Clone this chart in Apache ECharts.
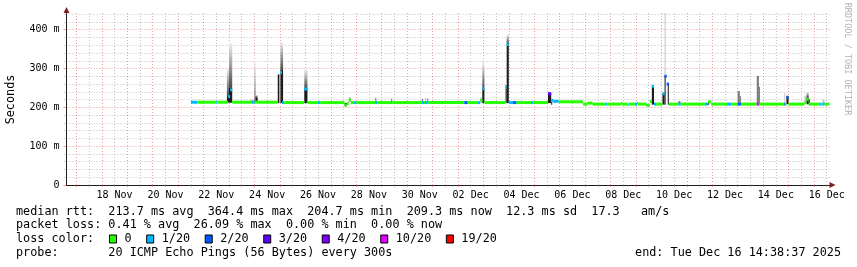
<!DOCTYPE html>
<html><head><meta charset="utf-8">
<script src="https://cdn.jsdelivr.net/npm/echarts@6/dist/echarts.min.js"></script>
<style>html,body{margin:0;padding:0;background:#fff}#c{width:857px;height:267px}</style>
</head><body><div id="c"></div><script>
// ---------------- data ----------------
const rangeStart = '11-16 14:38';
const rangeEnd = '12-16 14:38';
const xTickLabels = ['18 Nov','20 Nov','22 Nov','24 Nov','26 Nov','28 Nov','30 Nov','02 Dec','04 Dec','06 Dec','08 Dec','10 Dec','12 Dec','14 Dec','16 Dec'];
const yTickValues = [0, 100, 200, 300, 400];           // ms
const yTickLabels = ['0', '100 m', '200 m', '300 m', '400 m'];
const yMax = 443;                                      // ms, top of plot
const lossLabels = ['0', '1/20', '2/20', '3/20', '4/20', '10/20', '19/20'];
const lossColors = ['#26ff00', '#00b8ff', '#0059ff', '#5e00ff', '#7e00ff', '#dd00ff', '#ff0000'];

// median rtt (ms) step series: [start time, median, loss class]; holds until next entry
const medianSteps = [
 ['11-21 12:00', 213.2, 1], ['11-21 18:00', 213.2, 0], ['11-22 12:00', 213.2, 1], ['11-22 13:00', 213.2, 0],
 ['11-22 23:00', 228, 1], ['11-23 01:00', 245, 1], ['11-23 03:00', 213.2, 0], ['11-23 21:00', 213.2, 1],
 ['11-24 00:00', 213.2, 0], ['11-24 22:00', null, 0], ['11-25 00:00', 290, 1], ['11-25 02:00', 212.3, 1],
 ['11-25 04:00', 212.3, 0], ['11-25 23:00', 247, 1], ['11-26 02:00', 212.3, 0], ['11-26 12:00', 212.3, 1],
 ['11-26 14:00', 212.3, 0], ['11-27 13:00', 205, 0], ['11-27 15:00', 210, 0], ['11-27 17:00', 219, 0],
 ['11-27 19:00', 212.3, 0], ['11-27 22:00', 212.3, 1], ['11-28 00:00', 212.3, 0], ['11-28 18:00', 212.3, 1],
 ['11-28 20:00', 212.3, 0], ['11-29 09:00', 212.3, 1], ['11-29 10:00', 212.3, 0], ['11-30 14:00', 212.3, 1],
 ['11-30 16:00', 212.3, 0], ['11-30 17:00', 212.3, 1], ['11-30 20:00', 212.3, 0], ['12-02 06:00', 212.3, 2],
 ['12-02 09:00', 212.3, 0], ['12-02 19:00', 212.3, 1], ['12-02 21:00', 218, 0], ['12-02 23:00', 248, 1],
 ['12-03 01:00', 212.3, 0], ['12-03 21:00', 252, 1], ['12-03 22:00', 362, 1], ['12-04 00:00', 212.3, 1],
 ['12-04 04:00', 212.3, 2], ['12-04 07:00', 212.3, 0], ['12-04 21:00', 212.3, 1], ['12-04 23:00', 212.3, 0],
 ['12-05 13:00', 235, 3], ['12-05 16:00', 218, 1], ['12-05 18:00', 215.5, 1], ['12-05 23:00', 214.3, 0],
 ['12-06 22:00', 208.3, 0], ['12-07 02:00', 211, 0], ['12-07 07:00', 208.3, 0], ['12-07 19:00', 208.3, 1],
 ['12-07 21:00', 208.3, 0], ['12-08 10:00', 211, 0], ['12-08 11:00', 208.3, 0], ['12-08 16:00', 206.5, 1],
 ['12-08 17:00', 208.3, 0], ['12-08 23:00', 208.3, 1], ['12-09 01:00', 211, 0], ['12-09 02:00', 208.3, 0],
 ['12-09 10:00', 205.5, 0], ['12-09 13:00', 215, 0], ['12-09 15:00', 254, 1], ['12-09 17:00', 208.3, 1],
 ['12-09 19:00', 208.3, 0], ['12-10 01:00', 235, 1], ['12-10 03:00', 280, 2], ['12-10 05:00', 260, 2],
 ['12-10 07:00', 208.3, 0], ['12-10 16:00', 208.3, 1], ['12-10 18:00', 208.3, 0], ['12-11 17:00', 208.3, 1],
 ['12-11 20:00', 214, 0], ['12-11 23:00', 208.3, 0], ['12-12 14:00', 208.3, 1], ['12-12 18:00', 208.3, 0],
 ['12-13 00:00', 208.3, 2], ['12-13 03:00', 208.3, 0], ['12-13 18:00', 208.3, 5], ['12-13 20:00', 208.3, 0],
 ['12-14 20:00', 208.3, 2], ['12-14 21:00', 208.3, 0], ['12-14 22:00', 226, 2], ['12-15 00:00', 208.3, 0],
 ['12-15 15:00', 213, 0], ['12-15 17:00', 221, 0], ['12-15 19:00', 208.3, 0], ['12-16 05:00', 208.3, 1],
 ['12-16 07:00', 208.3, 0], ['12-16 08:00', 208.3, 1], ['12-16 10:00', 208.3, 0], ['12-16 14:38', null, 0]
];

// smoke (ping spread): [start, end, low ms, dense core top ms, top ms, kind] kind 0 dense, 1 sparse, 2 faint
const smokeRuns = [
 ['11-22 22:00','11-23 00:00', 212, 229, 300, 0], ['11-23 00:00','11-23 03:00', 212, 250, 366, 0],
 ['11-23 20:00','11-24 00:00', 212, 212, 220, 2], ['11-24 00:00','11-24 01:00', 212, 214, 320, 0],
 ['11-24 01:00','11-24 03:00', 212, 226, 232, 0],
 ['11-24 22:00','11-24 23:30', 211, 285, 285, 0], ['11-25 00:30','11-25 03:00', 211, 296, 369, 0],
 ['11-25 23:00','11-26 02:00', 211, 248, 298, 0],
 ['11-27 13:00','11-27 15:00', 204, 211, 211, 0], ['11-27 17:00','11-27 19:00', 212, 212, 226, 2],
 ['11-28 18:00','11-28 19:00', 212, 212, 225, 1], ['11-29 09:00','11-29 10:00', 212, 212, 222, 1],
 ['11-30 14:00','11-30 15:00', 212, 212, 222, 1], ['11-30 17:00','11-30 18:00', 212, 212, 225, 2],
 ['11-30 19:00','11-30 20:00', 212, 212, 223, 1],
 ['12-02 21:00','12-02 23:00', 211, 211, 226, 2], ['12-02 23:00','12-03 01:00', 211, 250, 317, 0],
 ['12-03 21:00','12-03 22:00', 211, 257, 257, 0], ['12-03 22:00','12-04 00:00', 211, 366, 388, 0],
 ['12-05 13:00','12-05 16:00', 211, 238, 238, 0], ['12-05 16:00','12-05 17:00', 207, 214, 214, 0],
 ['12-09 10:00','12-09 12:00', 203, 208, 208, 0], ['12-09 15:00','12-09 17:00', 207, 256, 258, 0],
 ['12-10 01:00','12-10 03:00', 207, 237, 237, 0], ['12-10 03:00','12-10 04:00', 283, 283, 470, 2],
 ['12-10 03:00','12-10 04:00', 207, 283, 283, 0], ['12-10 06:00','12-10 07:00', 207, 262, 262, 0],
 ['12-10 16:00','12-10 18:00', 209, 209, 216, 1], ['12-11 20:00','12-11 21:00', 207, 216, 216, 0],
 ['12-13 00:00','12-13 02:00', 208, 208, 242, 1], ['12-13 02:00','12-13 03:00', 208, 208, 229, 1],
 ['12-13 18:00','12-13 20:00', 208, 208, 281, 1], ['12-13 20:00','12-13 21:00', 208, 208, 253, 1],
 ['12-14 20:00','12-14 21:00', 208, 208, 237, 2], ['12-14 22:00','12-15 00:00', 208, 229, 229, 0],
 ['12-15 15:00','12-15 17:00', 208, 208, 230, 2], ['12-15 17:00','12-15 19:00', 208, 226, 240, 0],
 ['12-15 19:00','12-15 20:00', 208, 221, 221, 0], ['12-16 08:00','12-16 10:00', 208, 208, 220, 2]
];

const summaryLines = [
 'median rtt:  213.7 ms avg  364.4 ms max  204.7 ms min  209.3 ms now  12.3 ms sd  17.3   am/s',
 'packet loss: 0.41 % avg  26.09 % max  0.00 % min  0.00 % now',
 'loss color:',
 'probe:       20 ICMP Echo Pings (56 Bytes) every 300s'
];
const endText = 'end: Tue Dec 16 14:38:37 2025';
const yTitle = 'Seconds';
const watermark = 'RRDTOOL / TOBI OETIKER';

// ---------------- helpers ----------------
function day(s) {               // 'MM-DD HH:MM' -> day number counted from Nov 0
  const [md, hm] = s.split(' ');
  const [M, D] = md.split('-').map(Number);
  const [h, m] = hm.split(':').map(Number);
  return (M === 12 ? 30 : 0) + D + (h + m / 60) / 24;
}
function labelDay(lbl) {        // label centred on noon of its day
  const [d, mon] = lbl.split(' ');
  return (mon === 'Dec' ? 30 : 0) + Number(d) + 0.5;
}
const xMin = day(rangeStart), xMax = day(rangeEnd);
const labelPos = xTickLabels.map(labelDay);
const majorDays = [], minorDays = [];
for (let d = Math.ceil(xMin); d <= xMax; d++) majorDays.push(d);
for (let d = Math.floor(xMin) + 0.5; d <= xMax; d++) if (d >= xMin) minorDays.push(d);
const minorY = [];
for (let v = 20; v <= yMax; v += 20) if (v % 100 !== 0) minorY.push(v);

const FONT = 'DejaVu Sans Mono';
const GRID_C = 'rgba(143,143,143,0.55)';
const MGRID_C = 'rgba(222,79,79,0.55)';
const AXIS_C = '#1f1f1f';
const ARROW_C = '#801f1f';
const G = { left: 66.5, right: 27.5, top: 13, bottom: 82 };

// median segments grouped by loss class
const medianByLoss = lossLabels.map(() => []);
for (let i = 0; i < medianSteps.length - 1; i++) {
  const [t, v, l] = medianSteps[i];
  if (v === null) continue;
  medianByLoss[l].push([day(t), day(medianSteps[i + 1][0]), v]);
}
const smokeData = smokeRuns.map(r => [day(r[0]), day(r[1]), r[2], r[3], r[4], r[5]]);

const chart = echarts.init(document.getElementById('c'), null, { renderer: 'canvas' });

function clampY(y, cs) { return Math.max(cs.y, Math.min(cs.y + cs.height, y)); }

const smokeSeries = {
  type: 'custom', name: 'smoke', xAxisIndex: 0, yAxisIndex: 0, z: 3,
  encode: { x: [0, 1], y: [2, 4] },
  data: smokeData,
  renderItem(params, api) {
    const cs = params.coordSys;
    const t0 = api.value(0), t1 = api.value(1), lo = api.value(2), core = api.value(3), top = api.value(4), kind = api.value(5);
    const x0 = api.coord([t0, lo])[0];
    const x1 = api.coord([t1, lo])[0];
    const w = Math.max(x1 - x0, 1);
    const yLo = clampY(api.coord([t0, lo])[1], cs);
    const yCore = clampY(api.coord([t0, core])[1], cs);
    const yTop = clampY(api.coord([t0, top])[1], cs);
    const children = [];
    if (kind === 0) {
      if (yCore - yTop > 0.5) children.push({ type: 'rect', shape: { x: x0, y: yTop, width: w, height: yCore - yTop },
        style: { fill: new echarts.graphic.LinearGradient(0, 0, 0, 1, [{ offset: 0, color: '#f0f0f0' }, { offset: 1, color: '#4a4a4a' }]) } });
      if (yLo - yCore > 0.5) children.push({ type: 'rect', shape: { x: x0, y: yCore, width: w, height: yLo - yCore }, style: { fill: '#1c1c1c' } });
    } else {
      children.push({ type: 'rect', shape: { x: x0, y: yTop, width: w, height: yLo - yTop }, style: { fill: kind === 1 ? '#7a7a7a' : '#c8c8c8' } });
    }
    return { type: 'group', children };
  }
};

const medianSeries = lossLabels.map((name, li) => ({
  type: 'custom', name, xAxisIndex: 0, yAxisIndex: 0, z: 4,
  itemStyle: { color: lossColors[li] },
  encode: { x: [0, 1], y: 2 },
  data: medianByLoss[li],
  renderItem(params, api) {
    const a = api.coord([api.value(0), api.value(2)]);
    const b = api.coord([api.value(1), api.value(2)]);
    return { type: 'rect', shape: { x: a[0], y: a[1] - 1.5, width: Math.max(b[0] - a[0], 1), height: 3 }, style: { fill: lossColors[li] } };
  }
}));

// text & arrows positioned from the grid
const W = 857, H = 267;
const plotRight = W - G.right;
const plotBottom = H - G.bottom;
const gfx = [];
const lineY = [211.5, 225.2, 239, 252.7];
summaryLines.forEach((s, i) => gfx.push({ type: 'text', x: 16, y: lineY[i], silent: true,
  style: { text: s, fontFamily: FONT, fontSize: 11.8, fill: '#000', verticalAlign: 'middle', align: 'left' } }));
gfx.push({ type: 'text', x: 841, y: lineY[3], silent: true,
  style: { text: endText, fontFamily: FONT, fontSize: 11.8, fill: '#000', verticalAlign: 'middle', align: 'right' } });
gfx.push({ type: 'text', x: 10.5, y: 99.5, rotation: Math.PI / 2, silent: true,
  style: { text: yTitle, fontFamily: FONT, fontSize: 11.8, fill: '#000', verticalAlign: 'middle', align: 'center' } });
gfx.push({ type: 'text', x: 847.5, y: 59, rotation: -Math.PI / 2, silent: true,
  style: { text: watermark, fontFamily: FONT, fontSize: 8.5, fill: '#b4b4b4', verticalAlign: 'middle', align: 'center' } });
gfx.push({ type: 'polygon', silent: true, shape: { points: [[G.left - 3, G.top], [G.left + 3, G.top], [G.left, G.top - 6]] }, style: { fill: ARROW_C } });
gfx.push({ type: 'polygon', silent: true, shape: { points: [[plotRight, plotBottom - 3], [plotRight, plotBottom + 3], [plotRight + 6, plotBottom]] }, style: { fill: ARROW_C } });

const option = {
  animation: false,
  backgroundColor: '#ffffff',
  grid: G,
  xAxis: [
    { type: 'value', min: xMin, max: xMax, position: 'bottom',
      axisLine: { show: true, lineStyle: { color: AXIS_C, width: 1 } },
      axisTick: { show: false },
      axisLabel: { customValues: labelPos, margin: 5, fontFamily: FONT, fontSize: 10, color: '#000',
        formatter: v => { const i = labelPos.findIndex(p => Math.abs(p - v) < 1e-6); return i >= 0 ? xTickLabels[i] : ''; } },
      splitLine: { show: false } },
    { type: 'value', min: xMin, max: xMax, position: 'bottom',
      axisLine: { show: false }, axisLabel: { show: false },
      axisTick: { show: true, customValues: majorDays, length: 2, lineStyle: { color: MGRID_C } },
      splitLine: { show: true, lineStyle: { color: MGRID_C, width: 1, type: [1, 2] } } },
    { type: 'value', min: xMin, max: xMax, position: 'bottom',
      axisLine: { show: false }, axisLabel: { show: false },
      axisTick: { show: true, customValues: minorDays, length: 2, lineStyle: { color: GRID_C } },
      splitLine: { show: true, lineStyle: { color: GRID_C, width: 1, type: [1, 2] } } }
  ],
  yAxis: [
    { type: 'value', min: 0, max: yMax, position: 'left',
      axisLine: { show: true, lineStyle: { color: AXIS_C, width: 1 } },
      axisTick: { show: true, customValues: yTickValues, length: 3, lineStyle: { color: MGRID_C } },
      axisLabel: { customValues: yTickValues, margin: 7, fontFamily: FONT, fontSize: 10, color: '#000',
        formatter: v => { const i = yTickValues.indexOf(v); return i >= 0 ? yTickLabels[i] : ''; } },
      splitLine: { show: true, lineStyle: { color: MGRID_C, width: 1, type: [1, 2] } } },
    { type: 'value', min: 0, max: yMax, position: 'left',
      axisLine: { show: false }, axisLabel: { show: false },
      axisTick: { show: true, customValues: minorY, length: 2, lineStyle: { color: GRID_C } },
      splitLine: { show: true, lineStyle: { color: GRID_C, width: 1, type: [1, 2] } } }
  ],
  legend: {
    data: lossLabels.map((n, i) => ({ name: n, itemStyle: { color: lossColors[i], borderColor: '#000', borderWidth: 1 } })),
    left: 109, top: 233, padding: 0, itemGap: 14.6, itemWidth: 7, itemHeight: 8, icon: 'rect',
    selectedMode: false,
    textStyle: { fontFamily: FONT, fontSize: 11.8, color: '#000', padding: [0, 0, 0, 3] }
  },
  series: [smokeSeries].concat(medianSeries),
  graphic: gfx
};
chart.setOption(option);
</script></body></html>
